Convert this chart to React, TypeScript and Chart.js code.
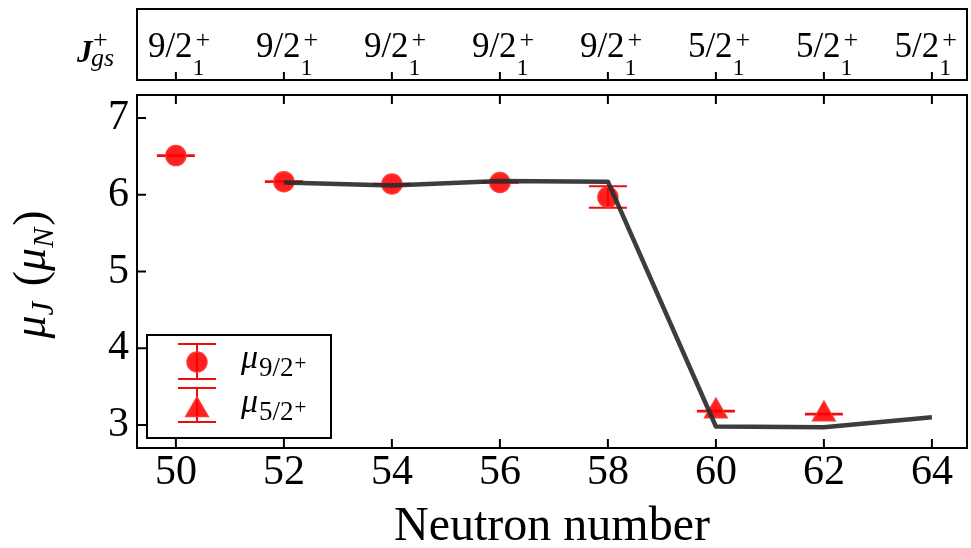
import React, { useEffect, useRef } from "react";
import { Chart, registerables } from "chart.js";

Chart.register(...registerables);

// ---------- data ----------
const neutronTicks = [50, 52, 54, 56, 58, 60, 62, 64];
const yTickValues = [3, 4, 5, 6, 7];
const groundStateSpin = ["9/2", "9/2", "9/2", "9/2", "9/2", "5/2", "5/2", "5/2"];
const nineHalfN = [50, 52, 54, 56, 58];
const nineHalfMu = [6.51, 6.17, 6.14, 6.16, 5.97];
const nineHalfErr = [0.005, 0.005, 0.005, 0.005, 0.14];
const fiveHalfN = [60, 62];
const fiveHalfMu = [3.18, 3.14];
const fiveHalfErr = [0.005, 0.005];
const theoryN = [52, 54, 56, 58, 60, 62, 64];
const theoryMu = [6.16, 6.12, 6.18, 6.17, 2.98, 2.97, 3.1];

const X_MIN = 49.28;
const X_MAX = 64.65;
const Y_MIN = 2.7;
const Y_MAX = 7.3;

const SERIF = "'Liberation Serif', 'DejaVu Serif', serif";
const RED = "rgba(255, 0, 0, 0.88)";
const RED_EDGE = "rgba(255, 50, 50, 0.95)";
const ERR_RED = "rgba(235, 0, 0, 0.95)";
const LINE = "rgba(45, 45, 45, 0.92)";

type Seg = { t: string; f: string; dy: number; dx?: number };

function richWidth(ctx: CanvasRenderingContext2D, segs: Seg[]) {
  let w = 0;
  for (const s of segs) {
    ctx.font = s.f;
    w += ctx.measureText(s.t).width + (s.dx || 0);
  }
  return w;
}

function drawRich(ctx: CanvasRenderingContext2D, segs: Seg[], x: number, y: number) {
  let cx = x;
  for (const s of segs) {
    ctx.font = s.f;
    cx += s.dx || 0;
    ctx.fillText(s.t, cx, y + s.dy);
    cx += ctx.measureText(s.t).width;
  }
}

function drawTriangle(ctx: CanvasRenderingContext2D, cx: number, cy: number, r: number) {
  const s = Math.sin(Math.PI / 3) * r;
  ctx.beginPath();
  ctx.moveTo(cx, cy - r);
  ctx.lineTo(cx + s, cy + r / 2);
  ctx.lineTo(cx - s, cy + r / 2);
  ctx.closePath();
  ctx.fill();
  ctx.stroke();
}

function drawErrSymbol(ctx: CanvasRenderingContext2D, px: number, top: number, bot: number) {
  ctx.beginPath();
  ctx.moveTo(px, top);
  ctx.lineTo(px, bot);
  ctx.moveTo(px - 19, top);
  ctx.lineTo(px + 19, top);
  ctx.moveTo(px - 19, bot);
  ctx.lineTo(px + 19, bot);
  ctx.stroke();
}

const overlayPlugin = {
  id: "overlay",
  beforeDatasetsDraw(chart: any) {
    const { ctx } = chart;
    const x = chart.scales.x;
    const y = chart.scales.y;
    ctx.save();
    ctx.strokeStyle = ERR_RED;
    ctx.lineWidth = 2;
    const draw = (ns: number[], vs: number[], es: number[]) =>
      ns.forEach((n, i) => {
        const px = x.getPixelForValue(n);
        drawErrSymbol(ctx, px, y.getPixelForValue(vs[i] + es[i]), y.getPixelForValue(vs[i] - es[i]));
      });
    draw(nineHalfN, nineHalfMu, nineHalfErr);
    draw(fiveHalfN, fiveHalfMu, fiveHalfErr);
    ctx.restore();
  },
  afterDraw(chart: any) {
    const { ctx, chartArea: a } = chart;
    const x = chart.scales.x;
    const y = chart.scales.y;
    ctx.save();
    ctx.strokeStyle = "#000";
    ctx.fillStyle = "#000";
    ctx.lineWidth = 2;

    // main frame
    ctx.strokeRect(a.left, a.top, a.right - a.left, a.bottom - a.top);
    ctx.beginPath();
    for (const v of yTickValues) {
      const py = y.getPixelForValue(v);
      ctx.moveTo(a.left, py);
      ctx.lineTo(a.left + 9, py);
    }
    for (const n of neutronTicks) {
      const px = x.getPixelForValue(n);
      ctx.moveTo(px, a.bottom);
      ctx.lineTo(px, a.bottom - 9);
      ctx.moveTo(px, a.top);
      ctx.lineTo(px, a.top + 9);
    }
    ctx.stroke();

    // top panel
    const pTop = 9;
    const pBot = 80;
    ctx.strokeRect(a.left, pTop, a.right - a.left, pBot - pTop);
    ctx.beginPath();
    for (const n of neutronTicks) {
      const px = x.getPixelForValue(n);
      ctx.moveTo(px, pBot);
      ctx.lineTo(px, pBot - 8);
    }
    ctx.stroke();

    ctx.textAlign = "left";
    ctx.textBaseline = "alphabetic";
    neutronTicks.forEach((n, i) => {
      const px = x.getPixelForValue(n);
      ctx.font = `35px ${SERIF}`;
      const w1 = ctx.measureText(groundStateSpin[i]).width;
      ctx.font = `26px ${SERIF}`;
      const wSup = ctx.measureText("+").width + 3;
      let left = px - 28;
      if (left + w1 + wSup > a.right - 10) left = a.right - 10 - w1 - wSup;
      ctx.font = `35px ${SERIF}`;
      ctx.fillText(groundStateSpin[i], left, 57);
      ctx.font = `24px ${SERIF}`;
      ctx.fillText("1", left + w1, 75);
      ctx.font = `26px ${SERIF}`;
      ctx.fillText("+", left + w1 + 3, 48);
    });

    // J_gs^+ label
    ctx.font = `italic bold 31px ${SERIF}`;
    ctx.fillText("J", 77, 62);
    ctx.font = `italic 26px ${SERIF}`;
    ctx.fillText("gs", 91, 66);
    ctx.font = `26px ${SERIF}`;
    ctx.fillText("+", 93, 48);

    // y title
    const ySegs: Seg[] = [
      { t: "μ", f: `italic 46px ${SERIF}`, dy: 0 },
      { t: "J", f: `italic 31px ${SERIF}`, dy: 8 },
      { t: " (", f: `46px ${SERIF}`, dy: 0, dx: 4 },
      { t: "μ", f: `italic 46px ${SERIF}`, dy: 0 },
      { t: "N", f: `italic 30px ${SERIF}`, dy: 8 },
      { t: ")", f: `46px ${SERIF}`, dy: 0, dx: 2 },
    ];
    const yw = richWidth(ctx, ySegs);
    ctx.save();
    ctx.translate(45, (a.top + a.bottom) / 2 + 3);
    ctx.rotate(-Math.PI / 2);
    drawRich(ctx, ySegs, -yw / 2, 0);
    ctx.restore();

    // x title
    ctx.font = `48px ${SERIF}`;
    ctx.textAlign = "center";
    ctx.fillText("Neutron number", (a.left + a.right) / 2, 540);
    ctx.textAlign = "left";

    // legend
    const lg = { l: 147, t: 335, r: 331, b: 438 };
    ctx.fillStyle = "#fff";
    ctx.fillRect(lg.l, lg.t, lg.r - lg.l, lg.b - lg.t);
    ctx.strokeStyle = "#000";
    ctx.lineWidth = 2;
    ctx.strokeRect(lg.l, lg.t, lg.r - lg.l, lg.b - lg.t);

    const sx = 197;
    ctx.strokeStyle = ERR_RED;
    ctx.lineWidth = 2;
    drawErrSymbol(ctx, sx, 344, 379);
    drawErrSymbol(ctx, sx, 388, 422);
    ctx.fillStyle = RED;
    ctx.strokeStyle = RED_EDGE;
    ctx.lineWidth = 1.5;
    ctx.beginPath();
    ctx.arc(sx, 362, 10, 0, Math.PI * 2);
    ctx.fill();
    ctx.stroke();
    drawTriangle(ctx, sx, 410, 13);

    ctx.fillStyle = "#000";
    const legendText = (spin: string, base: number) => {
      ctx.font = `italic 34px ${SERIF}`;
      ctx.fillText("μ", 241, base);
      const wm = ctx.measureText("μ").width;
      ctx.font = `27px ${SERIF}`;
      ctx.fillText(spin, 241 + wm + 1, base + 8);
      const ws = ctx.measureText(spin).width;
      ctx.font = `21px ${SERIF}`;
      ctx.fillText("+", 241 + wm + ws + 2, base + 2);
    };
    legendText(groundStateSpin[0], 368);
    legendText(groundStateSpin[5], 412);

    ctx.restore();
  },
};

export default function App() {
  const ref = useRef<HTMLCanvasElement>(null);

  useEffect(() => {
    if (!ref.current) return;
    const chart = new Chart(ref.current, {
      type: "scatter",
      data: {
        datasets: [
          {
            type: "line",
            label: "theory",
            data: theoryN.map((n, i) => ({ x: n, y: theoryMu[i] })),
            borderColor: LINE,
            borderWidth: 4.5,
            pointRadius: 0,
            fill: false,
            tension: 0,
            borderJoinStyle: "round",
            order: 0,
          } as any,
          {
            label: "μ9/2+",
            data: nineHalfN.map((n, i) => ({ x: n, y: nineHalfMu[i] })),
            pointStyle: "circle",
            pointRadius: 10,
            backgroundColor: RED,
            borderColor: RED_EDGE,
            borderWidth: 1.5,
            order: 1,
          },
          {
            label: "μ5/2+",
            data: fiveHalfN.map((n, i) => ({ x: n, y: fiveHalfMu[i] })),
            pointStyle: "triangle",
            pointRadius: 13,
            backgroundColor: RED,
            borderColor: RED_EDGE,
            borderWidth: 1.5,
            order: 1,
          },
        ],
      },
      options: {
        responsive: false,
        animation: false,
        devicePixelRatio: 1,
        layout: { autoPadding: false, padding: { top: 95, right: 4, left: 0, bottom: 0 } },
        plugins: { legend: { display: false }, tooltip: { enabled: false } },
        scales: {
          x: {
            type: "linear",
            min: X_MIN,
            max: X_MAX,
            afterBuildTicks: (s: any) => {
              s.ticks = neutronTicks.map((v) => ({ value: v }));
            },
            afterFit: (s: any) => {
              s.height = 100;
              s.paddingLeft = 0;
              s.paddingRight = 0;
            },
            grid: { display: false, drawTicks: false },
            border: { display: false },
            ticks: {
              font: { family: SERIF, size: 42 },
              color: "#000",
              padding: 0,
              maxRotation: 0,
              autoSkip: false,
              callback: (v: any) => String(v),
            },
          },
          y: {
            type: "linear",
            min: Y_MIN,
            max: Y_MAX,
            afterBuildTicks: (s: any) => {
              s.ticks = yTickValues.map((v) => ({ value: v }));
            },
            afterFit: (s: any) => {
              s.width = 137;
              s.paddingTop = 0;
              s.paddingBottom = 0;
            },
            grid: { display: false, drawTicks: false },
            border: { display: false },
            ticks: {
              font: { family: SERIF, size: 42 },
              color: "#000",
              padding: 8,
              autoSkip: false,
              callback: (v: any) => String(v),
            },
          },
        },
      },
      plugins: [overlayPlugin],
    });
    return () => chart.destroy();
  }, []);

  return (
    <div style={{ position: "absolute", left: 0, top: 0, width: 971, height: 548, background: "#fff" }}>
      <canvas ref={ref} width={971} height={548} style={{ display: "block", width: 971, height: 548 }} />
    </div>
  );
}
